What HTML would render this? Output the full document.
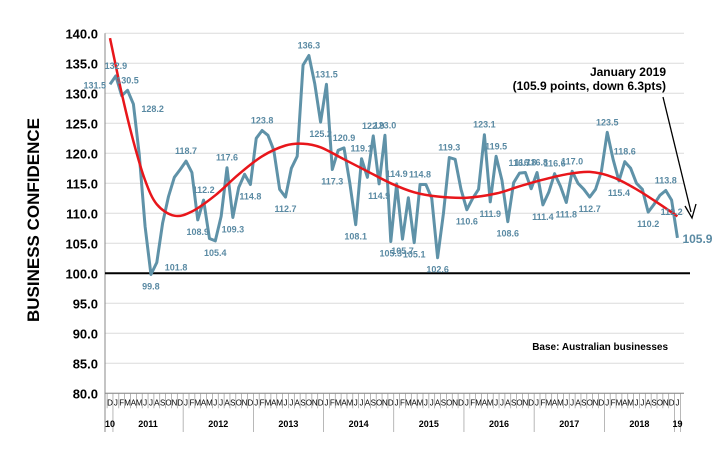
<!DOCTYPE html>
<html><head><meta charset="utf-8"><style>
body{margin:0;background:#fff;}
svg{display:block;font-family:"Liberation Sans",sans-serif;}
</style></head><body>
<svg id="c" width="726" height="459"></svg>
<script>
const values=[131.5,132.9,129.6,130.5,128.2,119.8,107.8,99.8,101.8,108.4,112.8,116,117.3,
118.7,116.8,108.9,112.2,105.8,105.4,109.5,117.6,109.3,114.3,116.5,114.8,
122.5,123.8,123,120.5,114,112.7,117.5,119.5,134.7,136.3,131.6,125.2,
131.5,117.3,120.5,120.9,115,108.1,119.1,116,122.9,114.9,123.0,105.3,
114.9,105.7,112.6,105.1,114.8,114.8,112.5,102.6,110,119.3,119,114,
110.6,112.5,114,123.1,111.9,119.5,115.5,108.6,115.1,116.7,116.8,114.1,
116.8,111.4,113.5,116.6,114.5,111.8,117.0,115,114,112.7,114,117,
123.5,119,115.4,118.6,117.5,115,114,110.2,111.5,113,113.8,112.2,105.9];
const trendIdx=[0,2,4,6,8,11,14,18,22,26,30,33,36,40,44,48,52,56,61,66,70,74,78,82,86,90,94,97];
const trendVal=[139.2,130,122,115.5,111.5,109.6,110.3,113,116.5,119.5,121.3,121.6,121,119,117,115,113.5,112.8,112.6,113.3,114.5,115.6,116.5,116.9,116,114,111.5,109.5];
const labelIdx=[0,1,3,4,7,8,13,15,16,18,20,21,24,26,30,34,36,37,38,40,42,43,45,46,47,48,49,50,52,53,56,58,61,64,65,66,68,70,71,73,74,76,78,79,82,85,87,88,92,95,96];
const labelPos=["L","A","A","R","B","R","A","B","A","B","A","B","B","A","B","A","B","A","B","A","B","A","A","B","A","B","A","B","B","A","B","A","B","A","B","A","B","A","A","A","B","A","B","A","B","A","B","A","B","A","B"];
const yTicks=[80,85,90,95,100,105,110,115,120,125,130,135,140];
const years=["2011","2012","2013","2014","2015","2016","2017","2018"];
const months=["J","F","M","A","M","J","J","A","S","O","N","D"];

const NS="http://www.w3.org/2000/svg";
const svg=document.getElementById('c');
function el(t,a,p){const e=document.createElementNS(NS,t);for(const k in a)e.setAttribute(k,a[k]);(p||svg).appendChild(e);return e;}
const X=i=>110+i*5.85;
const Y=v=>273.3-(v-100)*6.0;
const L=105,R=684;
const AXB=Y(80);
yTicks.forEach(v=>{
 const g=el('line',{x1:L,x2:R,y1:Y(v),y2:Y(v),stroke:'#dcdcdc','stroke-width':1});
 
 
 const t=el('text',{x:98,y:Y(v)+5,'text-anchor':'end','font-size':13,'font-weight':'bold',fill:'#000'});
 t.textContent=v.toFixed(1);
 
 
});
const ax=el('line',{x1:L,x2:L,y1:Y(140),y2:432,stroke:'#888','stroke-width':1});


const bx=el('line',{x1:L,x2:R,y1:AXB,y2:AXB,stroke:'#888','stroke-width':1});


const base=el('line',{x1:L,x2:690,y1:Y(100),y2:Y(100),stroke:'#000','stroke-width':2});


for(let i=0;i<values.length;i++){
 const m=i==0?"D":months[(i-1)%12];
 const t=el('text',{x:X(i),y:AXB+12,'text-anchor':'middle','font-size':8,fill:'#000'});
 t.textContent=m;
 
 
 const tk=el('line',{x1:X(i)-2.9,x2:X(i)-2.9,y1:AXB,y2:i%12==1?432:AXB+15,stroke:'#999','stroke-width':0.7});
 
 
}
const tkEnd=el('line',{x1:X(97)+2.9,x2:X(97)+2.9,y1:AXB,y2:432,stroke:'#999','stroke-width':0.7});


years.forEach((y,k)=>{
 const t=el('text',{x:X(1+k*12+5.5),y:427,'text-anchor':'middle','font-size':9,'font-weight':'bold',fill:'#000'});
 t.textContent=y;
 
 
});
[["10",0],["19",97]].forEach(([s,i])=>{
 const t=el('text',{x:X(i),y:427,'text-anchor':'middle','font-size':9,'font-weight':'bold',fill:'#000'});
 t.textContent=s;
 
 
});
const sp=el('polyline',{points:values.map((v,i)=>X(i)+','+Y(v)).join(' '),fill:'none',stroke:'#5f92a8','stroke-width':3,'stroke-linejoin':'round'});


const pts=trendIdx.map((k,j)=>[X(k),Y(trendVal[j])]);
let d='M'+pts[0];
for(let j=0;j<pts.length-1;j++){
 const p0=pts[Math.max(0,j-1)],p1=pts[j],p2=pts[j+1],p3=pts[Math.min(pts.length-1,j+2)];
 d+=' C'+(p1[0]+(p2[0]-p0[0])/6)+','+(p1[1]+(p2[1]-p0[1])/6)+' '+(p2[0]-(p3[0]-p1[0])/6)+','+(p2[1]-(p3[1]-p1[1])/6)+' '+p2;
}
const tr=el('path',{d:d,fill:'none',stroke:'#e8161b','stroke-width':2.5});


labelIdx.forEach((i,k)=>{
 const p=labelPos[k];let x=X(i),y=Y(values[i]),a='middle';
 if(p=='A'){y-=7;}else if(p=='B'){y+=15;}else if(p=='L'){x-=4;y+=4;a='end';}else{x+=8;y+=8;a='start';}
 const t=el('text',{x:x,y:y,'text-anchor':a,'font-size':9,'font-weight':'bold',fill:'#5a8aa3'});
 t.textContent=values[i].toFixed(1);
 
 
});
const last=el('text',{x:X(97)+5,y:Y(values[97])+5,'font-size':12,'font-weight':'bold',fill:'#5a8aa3'});
last.textContent=values[97].toFixed(1);


const a1=el('text',{x:666,y:76,'text-anchor':'end','font-size':12,'font-weight':'bold',fill:'#000'});
a1.textContent='January 2019';


const a2=el('text',{x:666,y:90,'text-anchor':'end','font-size':12,'font-weight':'bold',fill:'#000'});
a2.textContent='(105.9 points, down 6.3pts)';


const ar=el('line',{x1:663,y1:97,x2:691,y2:212,stroke:'#000','stroke-width':1.3});


const ah=el('path',{d:'M685,206 L692,218 L696,204',fill:'none',stroke:'#000','stroke-width':1.3});


const bt=el('text',{x:668,y:350,'text-anchor':'end','font-size':10,'font-weight':'bold',fill:'#000'});
bt.textContent='Base: Australian businesses';


const yt=el('text',{x:0,y:0,transform:'translate(39,220) rotate(-90)','text-anchor':'middle','font-size':17,'font-weight':'bold',fill:'#000'});
yt.textContent='BUSINESS CONFIDENCE';


</script>
</body></html>
